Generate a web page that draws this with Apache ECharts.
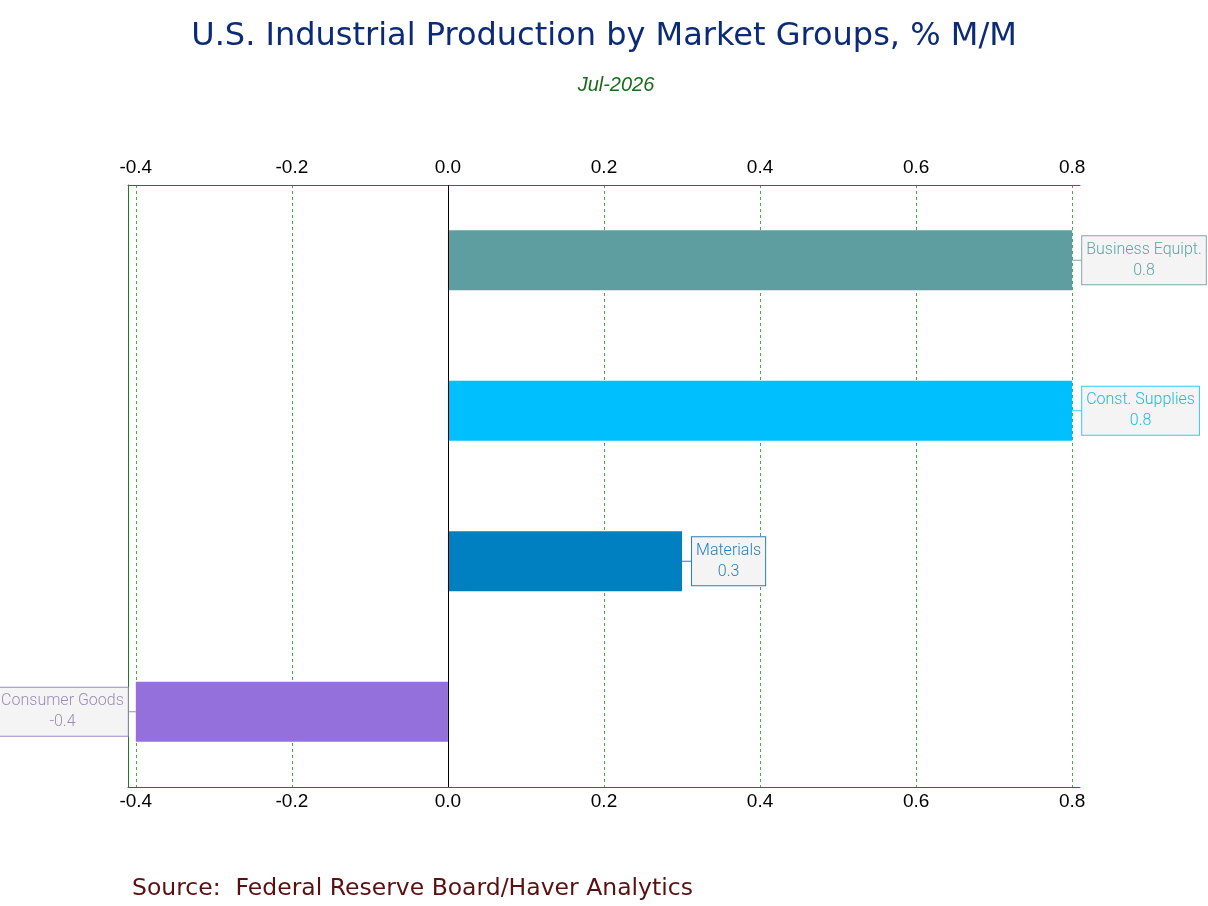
<!DOCTYPE html>
<html>
<head>
<meta charset="utf-8">
<script src="https://cdn.jsdelivr.net/npm/echarts@6/dist/echarts.min.js"></script>
<style>
html,body{margin:0;padding:0;background:#fff;}
#chart{width:1208px;height:906px;}
</style>
</head>
<body>
<div id="chart"></div>
<script>
const categories = ['Business Equipt.', 'Const. Supplies', 'Materials', 'Consumer Goods'];
const values = [0.8, 0.8, 0.3, -0.4];
const tickValues = [-0.4, -0.2, 0.0, 0.2, 0.4, 0.6, 0.8];

const barColors = ['#5f9ea0', '#00bfff', '#0080c0', '#9370db'];
const labelTextColors = ['#5fa3a8', '#14bde8', '#2a7fb5', '#9a8cb8'];
const labelBorderColors = ['#7fa9ad', '#3cc6ee', '#2a7fb5', '#9c8cc4'];

const chart = echarts.init(document.getElementById('chart'));

const frameColor = '#1b7d1b';
const gridColor = '#3db03d';

const axisCommon = {
  type: 'value',
  min: -0.41,
  max: 0.81,
  axisLine: { show: true, onZero: false, lineStyle: { color: frameColor, width: 1 } },
  axisTick: { show: false, customValues: tickValues },
  axisLabel: {
    customValues: tickValues,
    color: '#000',
    fontFamily: 'Liberation Sans, Arial, sans-serif',
    fontSize: 19,
    formatter: v => v.toFixed(1)
  }
};

chart.setOption({
  backgroundColor: '#fff',
  animation: false,
  title: [
    {
      text: 'U.S. Industrial Production by Market Groups, % M/M',
      left: 'center',
      top: 16,
      textStyle: { color: '#0b2a78', fontFamily: 'DejaVu Sans', fontWeight: 'normal', fontSize: 32 }
    },
    {
      text: 'Jul-2026',
      left: 611,
      textAlign: 'center',
      top: 70,
      textStyle: { color: '#1a6b1a', fontFamily: 'Liberation Sans', fontStyle: 'italic', fontWeight: 'normal', fontSize: 20 }
    },
    {
      text: 'Source:  Federal Reserve Board/Haver Analytics',
      left: 127,
      top: 872,
      textStyle: { color: '#5a1010', fontFamily: 'DejaVu Sans', fontWeight: 'normal', fontSize: 23.5 }
    }
  ],
  grid: { left: 128, right: 128, top: 185, bottom: 119, containLabel: false },
  xAxis: [
    Object.assign({}, axisCommon, {
      position: 'top',
      splitLine: { show: true, lineStyle: { color: gridColor, type: [3, 3], width: 1 } },
      axisLabel: Object.assign({}, axisCommon.axisLabel, { margin: 8 })
    }),
    Object.assign({}, axisCommon, {
      position: 'bottom',
      splitLine: { show: false },
      axisLabel: Object.assign({}, axisCommon.axisLabel, { margin: 5 })
    })
  ],
  yAxis: {
    type: 'category',
    data: categories,
    inverse: true,
    axisLine: { show: true, onZero: false, lineStyle: { color: frameColor, width: 1 } },
    axisTick: { show: false },
    axisLabel: { show: false },
    splitLine: { show: false }
  },
  series: [{
    type: 'bar',
    xAxisIndex: 0,
    barWidth: '40%',
    data: values.map((v, i) => ({
      value: v,
      itemStyle: { color: barColors[i] },
      label: {
        position: v >= 0 ? 'right' : 'left',
        borderColor: labelBorderColors[i],
        rich: { t: { color: labelTextColors[i], align: 'center', fontFamily: 'Roboto', fontWeight: 300, fontSize: 16, lineHeight: 21 } }
      },
      labelLine: { lineStyle: { color: labelBorderColors[i] } }
    })),
    label: {
      show: true,
      distance: 0,
      formatter: p => '{t|' + p.name + '}\n{t|' + p.value.toFixed(1) + '}',
      fontFamily: 'Roboto',
      fontWeight: 300,
      fontSize: 16,
      lineHeight: 21,
      backgroundColor: '#f4f4f4',
      borderWidth: 1,
      padding: [3, 4, 3, 4]
    },
    labelLine: { show: true, lineStyle: { width: 1 } },
    labelLayout: p => ({ dx: values[p.dataIndex] >= 0 ? 10 : -8 }),
    markLine: {
      silent: true,
      symbol: 'none',
      label: { show: false },
      lineStyle: { color: '#000', type: 'solid', width: 1 },
      data: [{ xAxis: 0 }]
    }
  }]
});
</script>
</body>
</html>
